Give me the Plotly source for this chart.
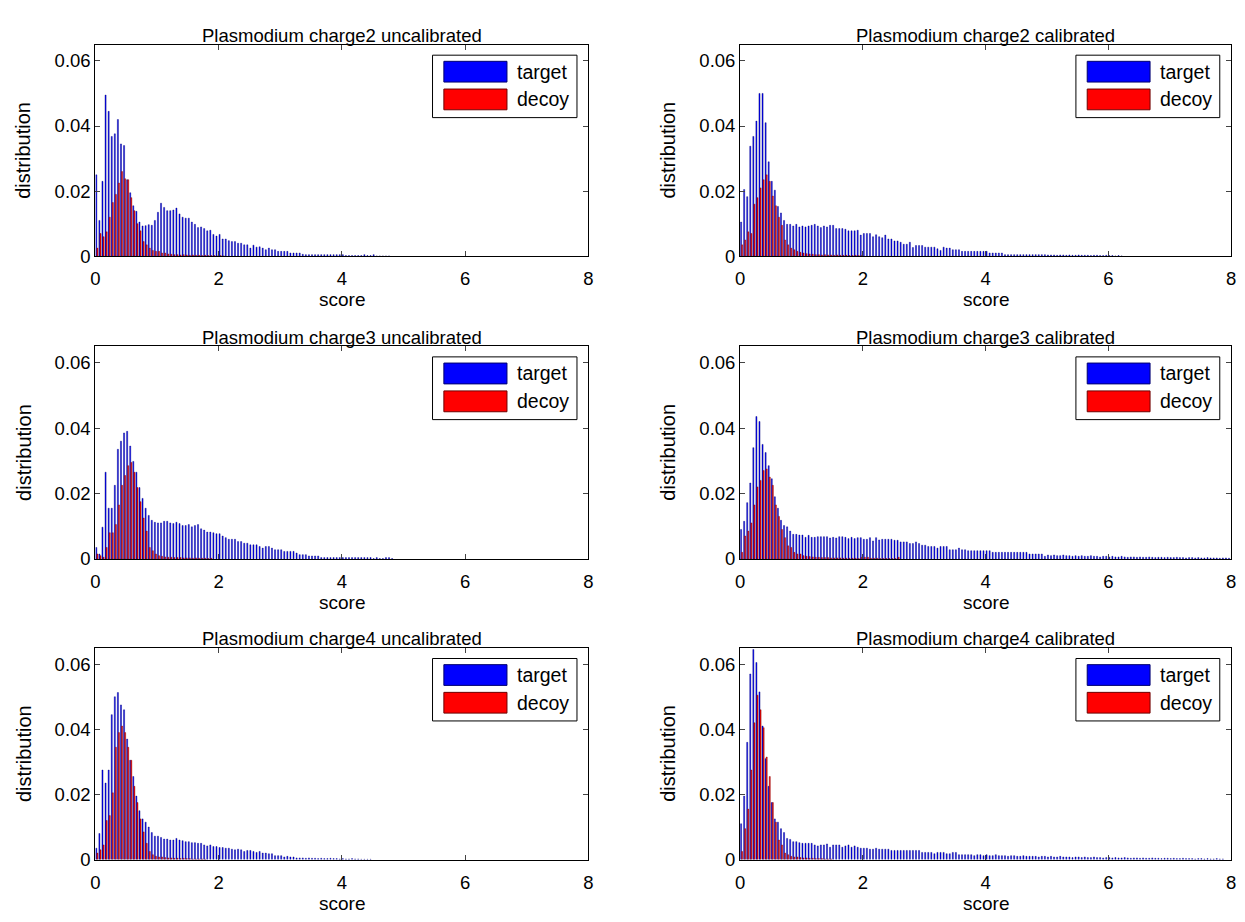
"""Target/decoy score distributions, Plasmodium, 3x2 grid (MATLAB-style grouped bars)."""

import plotly.graph_objects as go
from plotly.subplots import make_subplots

BIN_WIDTH = 0.05

TITLES = [
    "Plasmodium charge2 uncalibrated",
    "Plasmodium charge2 calibrated",
    "Plasmodium charge3 uncalibrated",
    "Plasmodium charge3 calibrated",
    "Plasmodium charge4 uncalibrated",
    "Plasmodium charge4 calibrated",
]

# histogram heights per 0.05-wide score bin, starting at score 0
c2_uncal_target = [
    0.025, 0.011, 0.023, 0.0495, 0.0445, 0.0368, 0.0376, 0.042, 0.0345, 0.034,
    0.0235, 0.0195, 0.0155, 0.0138, 0.0105, 0.0093, 0.0094, 0.0097, 0.0095, 0.011,
    0.0135, 0.0163, 0.015, 0.014, 0.014, 0.0142, 0.0148, 0.013, 0.012, 0.0117,
    0.0117, 0.0105, 0.0098, 0.0088, 0.009, 0.0085, 0.0078, 0.008, 0.0067, 0.0062,
    0.0067, 0.0053, 0.0053, 0.0048, 0.0045, 0.0045, 0.004, 0.004, 0.0035, 0.0035,
    0.0025, 0.0034, 0.0028, 0.0029, 0.0025, 0.002, 0.0025, 0.002, 0.002, 0.0015,
    0.0015, 0.0015, 0.0015, 0.001, 0.001, 0.001, 0.001, 0.0006, 0.0005, 0.0005,
    0.0005, 0.0005, 0.0005, 0.0005, 0.0005, 0.0005, 0.0005, 0.0005, 0.0005, 0.0005,
    0.0005, 0.0002, 0.0002, 0.0002, 0.0002, 0.0002, 0.0002, 0.0005, 0.0002, 0.0002,
    0.0005, 0.0001, 0.0001, 0.0001, 0.0001, 0.0001,
]
c2_uncal_decoy = [
    0.0025, 0.007, 0.006, 0.0075, 0.012, 0.0165, 0.019, 0.0225, 0.026, 0.0238,
    0.0235, 0.018, 0.014, 0.01, 0.0078, 0.0045, 0.0035, 0.0025, 0.0018, 0.0015,
    0.0015, 0.001, 0.001, 0.0007, 0.0006, 0.0005, 0.0005, 0.0004, 0.0005, 0.0004,
    0.0003, 0.0004, 0.0003, 0.0003, 0.0002, 0.0003, 0.0002, 0.0002, 0.0002, 0.0001,
    0.0002, 0.0001,
]

c2_cal_target = [
    0.0105, 0.0205, 0.0183, 0.0338, 0.0368, 0.0415, 0.050, 0.050, 0.041, 0.029,
    0.023, 0.0203, 0.0153, 0.0133, 0.011, 0.0098, 0.0098, 0.0093, 0.0098, 0.009,
    0.0093, 0.009, 0.0093, 0.0095, 0.0098, 0.0093, 0.0088, 0.0093, 0.009, 0.0095,
    0.0095, 0.0085, 0.0085, 0.0085, 0.0083, 0.0078, 0.0078, 0.0078, 0.008, 0.0065,
    0.007, 0.007, 0.007, 0.006, 0.0066, 0.006, 0.0057, 0.0065, 0.0053, 0.0053,
    0.0047, 0.0047, 0.0043, 0.0037, 0.0037, 0.0043, 0.0027, 0.0033, 0.0033, 0.0033,
    0.0028, 0.0028, 0.0028, 0.0028, 0.0023, 0.0018, 0.0028, 0.0025, 0.0025, 0.002,
    0.002, 0.002, 0.0015, 0.0015, 0.0015, 0.0015, 0.0015, 0.0015, 0.0015, 0.0015,
    0.0015, 0.001, 0.001, 0.001, 0.001, 0.001, 0.0005, 0.0005, 0.0005, 0.0005,
    0.0005, 0.0005, 0.0005, 0.0005, 0.0005, 0.0005, 0.0005, 0.0005, 0.0005, 0.0005,
    0.0004, 0.0004, 0.0004, 0.0003, 0.0004, 0.0004, 0.0003, 0.0004, 0.0003, 0.0003,
    0.0004, 0.0003, 0.0003, 0.0003, 0.0002, 0.0003, 0.0003, 0.0002, 0.0002, 0.0003,
    0.0002, 0.0002, 0.0001, 0.0002, 0.0001,
]
c2_cal_decoy = [
    0.0035, 0.005, 0.0075, 0.007, 0.016, 0.018, 0.021, 0.0235, 0.025, 0.023,
    0.0185, 0.0155, 0.012, 0.0095, 0.005, 0.0035, 0.0025, 0.002, 0.0015, 0.0012,
    0.001, 0.0008, 0.0007, 0.0006, 0.0005, 0.0005, 0.0004, 0.0005, 0.0004, 0.0004,
    0.0003, 0.0004, 0.0003, 0.0003, 0.0003, 0.0002, 0.0002, 0.0003, 0.0002, 0.0002,
]

c3_uncal_target = [
    0.0035, 0.0015, 0.0097, 0.0265, 0.0155, 0.0155, 0.0225, 0.0335, 0.036, 0.0385,
    0.039, 0.0345, 0.0298, 0.0265, 0.0218, 0.0185, 0.0155, 0.0133, 0.0118, 0.0112,
    0.011, 0.011, 0.0115, 0.0115, 0.011, 0.0108, 0.0112, 0.0108, 0.0102, 0.0102,
    0.0105, 0.0098, 0.0102, 0.0105, 0.0092, 0.0088, 0.0082, 0.0082, 0.008, 0.0077,
    0.0077, 0.007, 0.0065, 0.006, 0.006, 0.006, 0.0053, 0.0053, 0.0048, 0.0048,
    0.0043, 0.0043, 0.0043, 0.0038, 0.0033, 0.0038, 0.0038, 0.0033, 0.0028, 0.0028,
    0.0028, 0.0023, 0.0023, 0.0023, 0.0023, 0.0018, 0.0013, 0.0013, 0.0013, 0.0009,
    0.0009, 0.0009, 0.0009, 0.0004, 0.0004, 0.0004, 0.0004, 0.0004, 0.0004, 0.0004,
    0.0004, 0.0004, 0.0004, 0.0004, 0.0004, 0.0004, 0.0004, 0.0004, 0.0004, 0.0004,
    0.0001, 0.0004, 0.0001, 0.0001, 0.0004, 0.0004, 0.0001,
]
c3_uncal_decoy = [
    0.0015, 0.001, 0.0005, 0.0035, 0.008, 0.008, 0.0105, 0.0165, 0.0225, 0.0255,
    0.0285, 0.0295, 0.0265, 0.0218, 0.0175, 0.0125, 0.0085, 0.0035, 0.0025, 0.0015,
    0.001, 0.0008, 0.0006, 0.0005, 0.0005, 0.0004, 0.0004, 0.0004, 0.0003, 0.0003,
    0.0003, 0.0002, 0.0003, 0.0002, 0.0002, 0.0002, 0.0001, 0.0002,
]

c3_cal_target = [
    0.009, 0.0115, 0.0172, 0.0232, 0.034, 0.0435, 0.042, 0.035, 0.0325, 0.0285,
    0.0245, 0.019, 0.0155, 0.0118, 0.0102, 0.0098, 0.0085, 0.0075, 0.0075, 0.0073,
    0.0073, 0.0066, 0.0072, 0.0066, 0.0066, 0.0068, 0.0068, 0.0068, 0.0068, 0.0064,
    0.0066, 0.0064, 0.0068, 0.0068, 0.0066, 0.0062, 0.0066, 0.0062, 0.0065, 0.0065,
    0.006, 0.006, 0.0065, 0.0055, 0.0065, 0.0058, 0.006, 0.006, 0.006, 0.006,
    0.0057, 0.0057, 0.0052, 0.0052, 0.0052, 0.0047, 0.0047, 0.0052, 0.0047, 0.0042,
    0.0042, 0.0038, 0.0038, 0.0038, 0.0033, 0.0038, 0.0038, 0.0038, 0.0028, 0.0028,
    0.0028, 0.0033, 0.0028, 0.0028, 0.0025, 0.0025, 0.0025, 0.0025, 0.0025, 0.0025,
    0.0025, 0.0025, 0.002, 0.002, 0.002, 0.002, 0.002, 0.002, 0.002, 0.002,
    0.002, 0.002, 0.002, 0.002, 0.0015, 0.0015, 0.0015, 0.0015, 0.0015, 0.0008,
    0.0012, 0.001, 0.0012, 0.001, 0.001, 0.0012, 0.001, 0.001, 0.0008, 0.001,
    0.0008, 0.001, 0.0008, 0.0008, 0.001, 0.0008, 0.0008, 0.0006, 0.0008, 0.0008,
    0.0006, 0.0008, 0.0006, 0.0006, 0.0008, 0.0006, 0.0005, 0.0006, 0.0006, 0.0005,
    0.0006, 0.0005, 0.0005, 0.0006, 0.0005, 0.0004, 0.0005, 0.0005, 0.0004, 0.0005,
    0.0004, 0.0004, 0.0005, 0.0004, 0.0004, 0.0003, 0.0004, 0.0004, 0.0003, 0.0004,
    0.0003, 0.0003, 0.0004, 0.0003, 0.0003, 0.0003, 0.0002, 0.0003, 0.0003, 0.0002,
]
c3_cal_decoy = [
    0.002, 0.007, 0.0085, 0.011, 0.0165, 0.022, 0.024, 0.027, 0.0275, 0.025,
    0.0225, 0.0165, 0.013, 0.009, 0.0065, 0.004, 0.0035, 0.002, 0.0015, 0.0015,
    0.001, 0.0008, 0.0007, 0.0006, 0.0005, 0.0005, 0.0004, 0.0004, 0.0004, 0.0003,
    0.0003, 0.0003, 0.0003, 0.0002, 0.0002, 0.0002, 0.0002, 0.0002, 0.0001, 0.0005,
    0.0005, 0.0005, 0.0002, 0.0002, 0.0002, 0.0001, 0.0001, 0.0001, 0.0001, 0.0001,
    0.0001, 0.0005,
]

c4_uncal_target = [
    0.0035, 0.008, 0.0275, 0.0235, 0.0275, 0.0445, 0.050, 0.0513, 0.0475, 0.046,
    0.037, 0.0305, 0.0255, 0.0195, 0.015, 0.0125, 0.0115, 0.01, 0.0083, 0.0072,
    0.0072, 0.0068, 0.0063, 0.0063, 0.006, 0.006, 0.0065, 0.006, 0.0058, 0.0055,
    0.0055, 0.0052, 0.0052, 0.005, 0.005, 0.0045, 0.0042, 0.0045, 0.004, 0.004,
    0.0037, 0.0037, 0.0035, 0.0035, 0.0032, 0.003, 0.0032, 0.003, 0.0025, 0.0028,
    0.0028, 0.0025, 0.0022, 0.0025, 0.002, 0.002, 0.0018, 0.0018, 0.0012, 0.0012,
    0.0012, 0.0008, 0.001, 0.0008, 0.0008, 0.0005, 0.0005, 0.0005, 0.0004, 0.0005,
    0.0004, 0.0004, 0.0003, 0.0004, 0.0003, 0.0003, 0.0004, 0.0003, 0.0003, 0.0002,
    0.0003, 0.0002, 0.0002, 0.0003, 0.0002, 0.0002, 0.0001, 0.0001, 0.0001, 0.0001,
]
c4_uncal_decoy = [
    0.002, 0.003, 0.0045, 0.012, 0.0135, 0.0205, 0.0345, 0.039, 0.041, 0.039,
    0.0345, 0.0305, 0.0225, 0.0175, 0.0125, 0.0085, 0.005, 0.0025, 0.0015, 0.001,
    0.0008, 0.0008, 0.0006, 0.0005, 0.0005, 0.0004, 0.0004, 0.0003, 0.0004, 0.0003,
    0.0003, 0.0002, 0.0002, 0.0002, 0.0002, 0.0001,
]

c4_cal_target = [
    0.011, 0.0195, 0.036, 0.057, 0.0645, 0.0605, 0.0515, 0.041, 0.031, 0.0225,
    0.0175, 0.0125, 0.0115, 0.0095, 0.0083, 0.0065, 0.0062, 0.0055, 0.0055, 0.0052,
    0.005, 0.005, 0.005, 0.005, 0.0045, 0.0042, 0.0045, 0.0045, 0.0048, 0.0038,
    0.0045, 0.0045, 0.0045, 0.0038, 0.0042, 0.0045, 0.0038, 0.0042, 0.0038, 0.0035,
    0.0035, 0.0035, 0.0032, 0.0032, 0.0035, 0.0032, 0.0032, 0.0032, 0.0032, 0.0028,
    0.0028, 0.0028, 0.0028, 0.0028, 0.0028, 0.0028, 0.0028, 0.0028, 0.0028, 0.0022,
    0.0022, 0.0022, 0.0022, 0.0018, 0.0022, 0.0022, 0.0022, 0.0018, 0.0018, 0.0022,
    0.0022, 0.0015, 0.0015, 0.0015, 0.0015, 0.0015, 0.0012, 0.0015, 0.0015, 0.0012,
    0.0015, 0.0012, 0.0012, 0.0015, 0.0012, 0.0012, 0.0012, 0.001, 0.0012, 0.0012,
    0.001, 0.001, 0.0012, 0.001, 0.001, 0.001, 0.001, 0.0008, 0.001, 0.001,
    0.0008, 0.001, 0.0008, 0.0008, 0.001, 0.0008, 0.0008, 0.0008, 0.0006, 0.0008,
    0.0008, 0.0006, 0.0008, 0.0006, 0.0006, 0.0008, 0.0006, 0.0006, 0.0005, 0.0006,
    0.0006, 0.0005, 0.0006, 0.0005, 0.0005, 0.0006, 0.0005, 0.0004, 0.0005, 0.0005,
    0.0004, 0.0005, 0.0004, 0.0004, 0.0005, 0.0004, 0.0004, 0.0003, 0.0004, 0.0004,
    0.0003, 0.0004, 0.0003, 0.0003, 0.0004, 0.0003, 0.0003, 0.0003, 0.0002, 0.0003,
    0.0003, 0.0002, 0.0003, 0.0002, 0.0002, 0.0003, 0.0002, 0.0002,
]
c4_cal_decoy = [
    0.0025, 0.0095, 0.0155, 0.0275, 0.042, 0.0505, 0.046, 0.0405, 0.0315, 0.0255,
    0.0175, 0.0115, 0.006, 0.0045, 0.002, 0.0015, 0.001, 0.0008, 0.0008, 0.0006,
    0.0005, 0.0005, 0.0004, 0.0004, 0.0003, 0.0003, 0.0003, 0.0002, 0.0002, 0.0002,
]

PANELS = [
    (c2_uncal_target, c2_uncal_decoy),
    (c2_cal_target, c2_cal_decoy),
    (c3_uncal_target, c3_uncal_decoy),
    (c3_cal_target, c3_cal_decoy),
    (c4_uncal_target, c4_uncal_decoy),
    (c4_cal_target, c4_cal_decoy),
]

FONT = "Liberation Sans, Arial, Helvetica, sans-serif"
PAGE_MARGIN = 8  # default <body> margin the plot div sits inside
W, H = 1245 - PAGE_MARGIN, 922 - PAGE_MARGIN

# axes boxes in page pixels (left, right) / (top, bottom), measured off the MATLAB figure
COLS = [(91, 588), (741, 1236)]
ROWS = [(45, 259), (350, 565), (655, 869)]


def centers(values):
    return [BIN_WIDTH * (i + 0.5) for i in range(len(values))]


fig = make_subplots(rows=3, cols=2)

for idx, (target, decoy) in enumerate(PANELS):
    r, c = idx // 2 + 1, idx % 2 + 1
    fig.add_trace(
        go.Bar(x=centers(target), y=target, name="target",
               marker=dict(color="#0000ff", line=dict(color="#00006e", width=0.4)),
               showlegend=False, hoverinfo="skip"),
        row=r, col=c,
    )
    fig.add_trace(
        go.Bar(x=centers(decoy), y=decoy, name="decoy",
               marker=dict(color="#ff0000", line=dict(color="#6e0000", width=0.4)),
               showlegend=False, hoverinfo="skip"),
        row=r, col=c,
    )

annotations = []
shapes = []
for idx in range(6):
    r, c = idx // 2, idx % 2
    x0, x1 = COLS[c]
    top, bot = ROWS[r]
    n = "" if idx == 0 else str(idx + 1)
    xa, ya = f"xaxis{n}", f"yaxis{n}"
    fig.layout[xa].update(domain=[(x0 - PAGE_MARGIN) / W, (x1 - PAGE_MARGIN) / W])
    fig.layout[ya].update(domain=[1 - (bot - PAGE_MARGIN) / H, 1 - (top - PAGE_MARGIN) / H])

    xd, yd = f"x{n} domain", f"y{n} domain"
    annotations.append(dict(text=TITLES[idx], xref=xd, yref=yd, x=0.5, y=1,
                            yanchor="middle", yshift=9, showarrow=False,
                            font=dict(size=18.5, color="black")))
    annotations.append(dict(text="score", xref=xd, yref=yd, x=0.5, y=0,
                            yanchor="top", yshift=-31, showarrow=False,
                            font=dict(size=19, color="black")))
    annotations.append(dict(text="distribution", xref=xd, yref=yd, x=0, y=0.5,
                            xanchor="center", yanchor="middle", xshift=-72, textangle=-90,
                            showarrow=False, font=dict(size=20, color="black")))
    # legend box drawn in axis-domain units
    shapes.append(dict(type="rect", xref=xd, yref=yd, x0=0.684, x1=0.977,
                       y0=0.655, y1=0.950, line=dict(color="black", width=1),
                       fillcolor="white", layer="above"))
    shapes.append(dict(type="rect", xref=xd, yref=yd, x0=0.707, x1=0.835,
                       y0=0.823, y1=0.921, line=dict(color="#00006e", width=1),
                       fillcolor="#0000ff", layer="above"))
    shapes.append(dict(type="rect", xref=xd, yref=yd, x0=0.707, x1=0.835,
                       y0=0.692, y1=0.790, line=dict(color="#6e0000", width=1),
                       fillcolor="#ff0000", layer="above"))
    annotations.append(dict(text="target", xref=xd, yref=yd, x=0.851, y=0.872,
                            xanchor="left", yanchor="middle", showarrow=False,
                            font=dict(size=19.5, color="black")))
    annotations.append(dict(text="decoy", xref=xd, yref=yd, x=0.851, y=0.741,
                            xanchor="left", yanchor="middle", showarrow=False,
                            font=dict(size=19.5, color="black")))

fig.update_xaxes(range=[0, 8], tickvals=[0, 2, 4, 6, 8], ticks="inside", ticklen=5,
                 showline=True, linecolor="black", linewidth=1, mirror="ticks",
                 showgrid=False, zeroline=False, ticklabelstandoff=6,
                 tickfont=dict(size=18.5, color="black"))
fig.update_yaxes(range=[0, 0.065], tickvals=[0, 0.02, 0.04, 0.06],
                 ticktext=["0", "0.02", "0.04", "0.06"], ticks="inside", ticklen=5,
                 showline=True, linecolor="black", linewidth=1, mirror="ticks",
                 showgrid=False, zeroline=False, tickfont=dict(size=18.5, color="black"))

fig.update_layout(
    width=W, height=H,
    margin=dict(l=0, r=0, t=0, b=0),
    barmode="group", bargap=0.3, bargroupgap=0,
    paper_bgcolor="white", plot_bgcolor="white",
    font=dict(family=FONT, color="black"),
    annotations=annotations, shapes=shapes,
    showlegend=False,
)

fig.write_html("out.html")
